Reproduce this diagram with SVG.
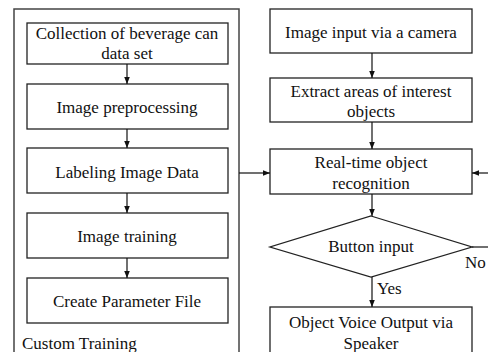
<svg xmlns="http://www.w3.org/2000/svg" width="488" height="352" viewBox="0 0 488 352">
<defs>
<style>
.box{fill:#fff;stroke:#222;stroke-width:1.3}
.outer{fill:none;stroke:#444;stroke-width:1.5}
.ln{fill:none;stroke:#111;stroke-width:1.2}
.t{font-family:'Liberation Serif','DejaVu Serif',serif;font-size:17px;fill:#111;text-anchor:middle;dominant-baseline:central}
.s{text-anchor:start}
</style>
<marker id="ah" viewBox="0 0 10 10" refX="10" refY="5" markerWidth="7" markerHeight="7" orient="auto" markerUnits="userSpaceOnUse">
<path d="M0,1 L10,5 L0,9 Z" fill="#111"/>
</marker>
</defs>
<rect width="488" height="352" fill="#fff"/>
<g id="custom-training">
<rect class="outer" x="14" y="9" width="225" height="360"/>
<text class="t s" x="22" y="343">Custom Training</text>
</g>
<g id="n1"><rect class="box" x="27" y="23" width="201" height="41"/><text class="t" x="127" y="33">Collection of beverage can</text><text class="t" x="127" y="53">data set</text></g>
<g id="n2"><rect class="box" x="27" y="84" width="201" height="45"/><text class="t" x="127" y="107">Image preprocessing</text></g>
<g id="n3"><rect class="box" x="27" y="148" width="201" height="45"/><text class="t" x="127" y="172">Labeling Image Data</text></g>
<g id="n4"><rect class="box" x="27" y="213" width="201" height="45"/><text class="t" x="127" y="236">Image training</text></g>
<g id="n5"><rect class="box" x="27" y="278" width="201" height="45"/><text class="t" x="127" y="301">Create Parameter File</text></g>
<g id="nA"><rect class="box" x="270" y="9" width="202" height="44"/><text class="t" x="371" y="32">Image input via a camera</text></g>
<g id="nB"><rect class="box" x="270" y="78" width="202" height="44"/><text class="t" x="371" y="91">Extract areas of interest</text><text class="t" x="371" y="111">objects</text></g>
<g id="nC"><rect class="box" x="270" y="149" width="202" height="45"/><text class="t" x="371" y="162">Real-time object</text><text class="t" x="371" y="183">recognition</text></g>
<g id="nD"><polygon class="box" points="371,216 472,247 371,277 270,247"/><text class="t" x="371" y="246">Button input</text></g>
<g id="nE"><rect class="box" x="270" y="307" width="202" height="60"/><text class="t" x="371" y="322">Object Voice Output via</text><text class="t" x="371" y="343">Speaker</text></g>
<g id="connectors">
<line class="ln" x1="127" y1="64" x2="127" y2="84" marker-end="url(#ah)"/>
<line class="ln" x1="127" y1="129" x2="127" y2="148" marker-end="url(#ah)"/>
<line class="ln" x1="127" y1="193" x2="127" y2="213" marker-end="url(#ah)"/>
<line class="ln" x1="127" y1="258" x2="127" y2="278" marker-end="url(#ah)"/>
<line class="ln" x1="372" y1="53" x2="372" y2="78" marker-end="url(#ah)"/>
<line class="ln" x1="372" y1="122" x2="372" y2="149" marker-end="url(#ah)"/>
<line class="ln" x1="239" y1="173" x2="270" y2="173" marker-end="url(#ah)"/>
<line class="ln" x1="372" y1="194" x2="372" y2="216" marker-end="url(#ah)"/>
<line class="ln" x1="372" y1="277" x2="372" y2="307" marker-end="url(#ah)"/>
<polyline class="ln" points="472,247 490,247"/>
<line class="ln" x1="490" y1="173" x2="472" y2="173" marker-end="url(#ah)"/>
<text class="t s" x="377" y="288">Yes</text>
<text class="t s" x="465" y="262">No</text>
</g>
</svg>
